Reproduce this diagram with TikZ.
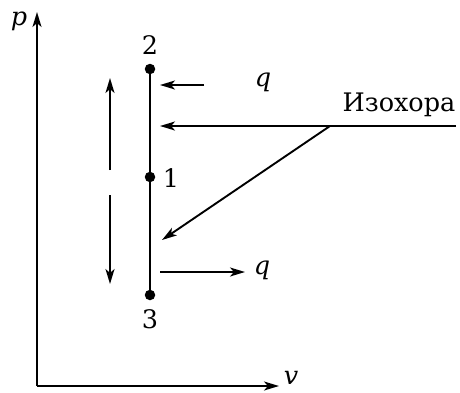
\documentclass[tikz,border=0pt]{standalone}
\usepackage{fontspec}
\setmainfont{DejaVu Serif}
\usetikzlibrary{arrows.meta}
\tikzset{
  arr/.style={line width=1.9pt,-{Stealth[length=15pt,width=9pt,inset=4pt]}},
  lbl/.style={inner sep=0pt,font=\fontsize{25.5}{30}\selectfont},
  ilbl/.style={inner sep=0pt,font=\fontsize{25.5}{30}\selectfont\itshape},
  dot/.style={circle,fill=black,inner sep=0pt,minimum size=10.5pt},
}
\begin{document}
\begin{tikzpicture}[x=1pt,y=-1pt]
\useasboundingbox (0,0) rectangle (460,392);
% axes
\coordinate (O) at (37,386);
\coordinate (ptop) at (37,12);
\coordinate (vend) at (279,386);
\draw[arr] (O) -- (ptop);
\draw[arr] (O) -- (vend);
\node[ilbl] (plab) at (19,21) {p};
\node[ilbl] (vlab) at (291,378) {v};
% isochore
\node[dot] (p2) at (150,69) {};
\node[dot] (p1) at (150,177) {};
\node[dot] (p3) at (150,295) {};
\draw[line width=2.9pt] (p2.center) -- (p3.center);
\node[lbl] (l2) at (150,45) {2};
\node[lbl] (l1) at (171,178) {1};
\node[lbl] (l3) at (150,319) {3};
% double arrow
\coordinate (ua) at (110,170);
\coordinate (ub) at (110,78);
\coordinate (da) at (110,195);
\coordinate (db) at (110,284);
\draw[arr] (ua) -- (ub);
\draw[arr] (da) -- (db);
% heat arrows
\coordinate (q1s) at (204,85);
\coordinate (q1e) at (160,85);
\node[ilbl] (q1) at (263,82) {q};
\draw[arr] (q1s) -- (q1e);
\coordinate (q2s) at (160,272);
\coordinate (q2e) at (245,272);
\node[ilbl] (q2) at (262,270) {q};
\draw[arr] (q2s) -- (q2e);
% Izokhora
\node[lbl,anchor=base] (iz) at (399,111) {Изохора};
\coordinate (hr) at (456,126);
\coordinate (hj) at (330,126);
\coordinate (he) at (160,126);
\coordinate (de) at (162,240);
\draw[line width=1.9pt] (hr) -- (hj);
\draw[arr] (hj) -- (he);
\draw[arr] (hj) -- (de);
\end{tikzpicture}
\end{document}
